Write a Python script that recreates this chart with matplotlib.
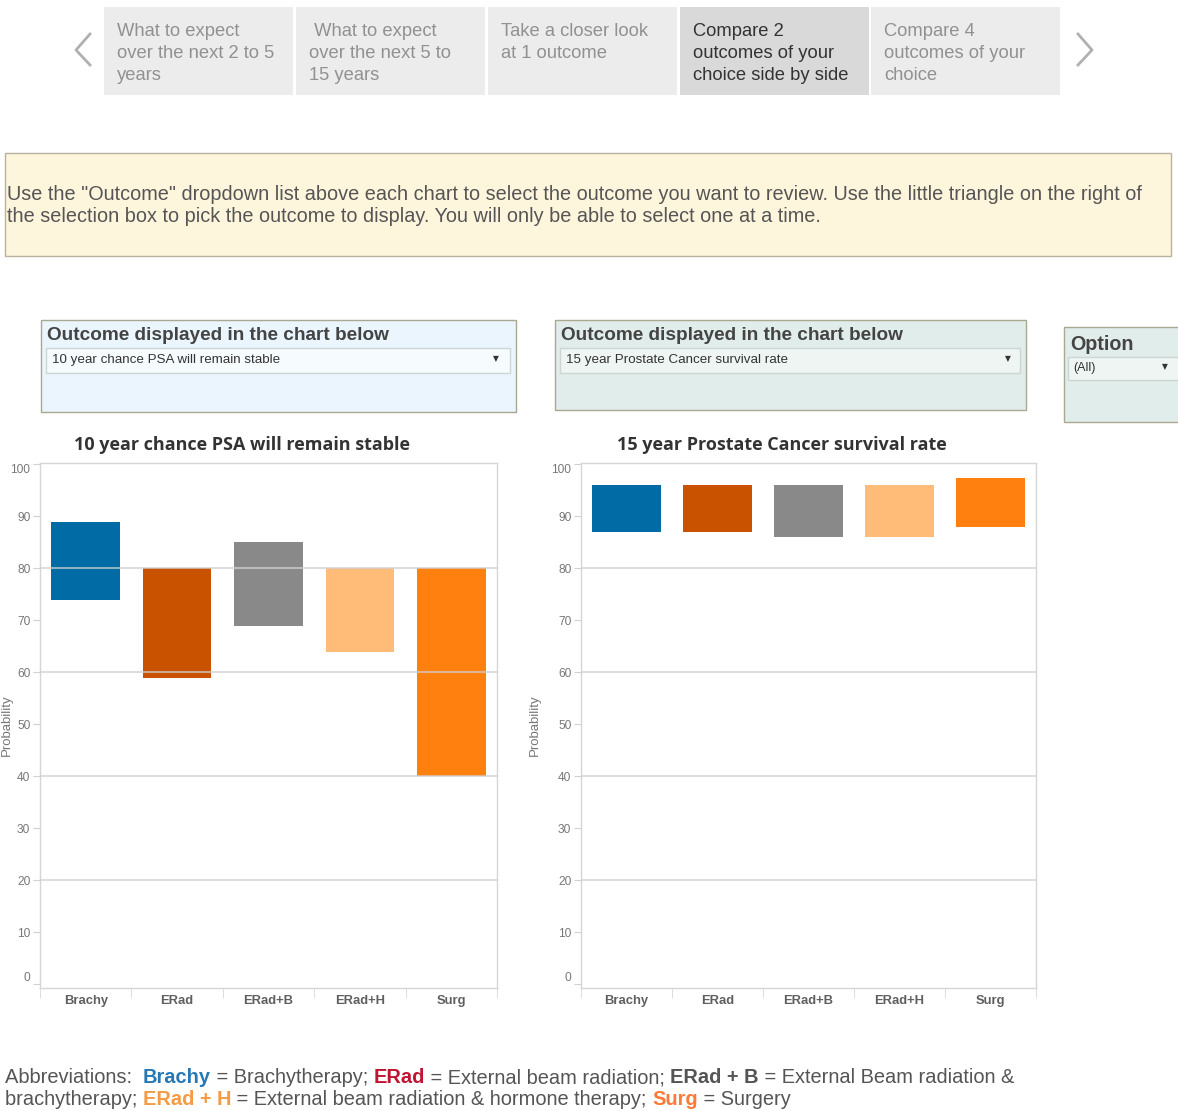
import numpy as np
import matplotlib
matplotlib.use("Agg")
import matplotlib.pyplot as plt
from matplotlib.patches import Rectangle

W, H = 1178, 1111

# data
categories = ["Brachy", "ERad", "ERad+B", "ERad+H", "Surg"]
bar_colors = ["#006BA4", "#C85200", "#898989", "#FFBC79", "#FF800E"]

left_title = "10 year chance PSA will remain stable"
left_low = [74, 59, 69, 64, 40]
left_high = [89, 80, 85, 80, 80]

right_title = "15 year Prostate Cancer survival rate"
right_low = [87, 87, 86, 86, 88]
right_high = [96, 96, 96, 96, 97.4]

y_ticks = [0, 10, 20, 30, 40, 50, 60, 70, 80, 90, 100]
grid_vals = [20, 40, 60, 80]

tabs = [
    ["What to expect", "over the next 2 to 5", "years"],
    [" What to expect", "over the next 5 to", "15 years"],
    ["Take a closer look", "at 1 outcome"],
    ["Compare 2", "outcomes of your", "choice side by side"],
    ["Compare 4", "outcomes of your", "choice"],
]
active_tab = 3

info_lines = [
    'Use the "Outcome" dropdown list above each chart to select the outcome you want to review. Use the little triangle on the right of',
    "the selection box to pick the outcome to display. You will only be able to select one at a time.",
]

abbrev_line1 = [
    ("Abbreviations:  ", "#555555", "normal"),
    ("Brachy", "#2878B5", "bold"),
    (" = Brachytherapy; ", "#555555", "normal"),
    ("ERad", "#C01432", "bold"),
    (" = External beam radiation; ", "#555555", "normal"),
    ("ERad + B", "#555555", "bold"),
    (" = External Beam radiation &", "#555555", "normal"),
]
abbrev_line2 = [
    ("brachytherapy; ", "#555555", "normal"),
    ("ERad + H", "#F59A45", "bold"),
    (" = External beam radiation & hormone therapy; ", "#555555", "normal"),
    ("Surg", "#FF7A35", "bold"),
    (" = Surgery", "#555555", "normal"),
]

SANS = "Liberation Sans"
ABBR_SIZE = 14.4

fig = plt.figure(figsize=(W / 100, H / 100), dpi=100)
fig.patch.set_facecolor("white")

# background layer in pixel coordinates
bg = fig.add_axes([0, 0, 1, 1])
bg.set_xlim(0, W)
bg.set_ylim(H, 0)
bg.axis("off")


def box(x0, y0, x1, y1, fc, ec, lw=1.0):
    bg.add_patch(Rectangle((x0, y0), x1 - x0, y1 - y0, facecolor=fc, edgecolor=ec, linewidth=lw))


# tabs
tab_x = [104, 296, 488, 680, 871]
for i, lines in enumerate(tabs):
    x0 = tab_x[i]
    fc = "#d9d9d9" if i == active_tab else "#ececec"
    col = "#333333" if i == active_tab else "#919191"
    box(x0, 7, x0 + 189, 95, fc, "none")
    for j, ln in enumerate(lines):
        bg.text(x0 + 13, 31 + 22 * j, ln, fontsize=13.2, color=col, family=SANS, va="center", ha="left")

bg.plot([90, 76, 90], [34, 50, 65], color="#b0b0b0", lw=2)
bg.plot([1078, 1092, 1078], [34, 50, 65], color="#b0b0b0", lw=2)

# info box
box(5, 153, 1171, 256, "#fef5dd", "#b9b29c")
for j, ln in enumerate(info_lines):
    bg.text(7, 195 + 22 * j, ln, fontsize=14.3, color="#555555", family=SANS, va="center", ha="left")

# outcome selectors
def selector(x0, x1, y1, fc, inner_fc, title, value, tri_x):
    box(x0, 320, x1, y1, fc, "#a9a893")
    bg.text(x0 + 6, 335, title, fontsize=13.7, weight="bold", color="#444444", family=SANS, va="center")
    box(x0 + 5, 348, x1 - 6, 373, inner_fc, "#cdd5d5")
    bg.text(x0 + 11, 360, value, fontsize=9.6, color="#333333", family=SANS, va="center")
    bg.text(tri_x, 359, "\u25bc", fontsize=5.5, color="#333333", family="DejaVu Sans", va="center", ha="center")


selector(41, 516, 412, "#eaf5fd", "#f6fbfe", "Outcome displayed in the chart below", left_title, 496)
selector(555, 1026, 410, "#e1edea", "#eef5f3", "Outcome displayed in the chart below", right_title, 1008)

box(1064, 327, 1185, 422, "#e1edea", "#a9a893")
bg.text(1070, 344, "Option", fontsize=14.2, weight="bold", color="#444444", family=SANS, va="center")
box(1068, 357, 1185, 380, "#eef5f3", "#cdd5d5")
bg.text(1073, 368, "(All)", fontsize=9.0, color="#333333", family=SANS, va="center")
bg.text(1165, 367, "\u25bc", fontsize=5.5, color="#333333", family="DejaVu Sans", va="center", ha="center")


# charts
def chart(x0, x1, title, low, high, ylabel_x):
    ax = fig.add_axes([x0 / W, 1 - 988 / H, (x1 - x0) / W, 525 / H])
    xs = np.arange(len(categories))
    ax.bar(xs, np.array(high) - np.array(low), bottom=low, width=0.75, color=bar_colors, zorder=2)
    for v in grid_vals:
        ax.axhline(v, color="#cfcfcf", lw=1.5, alpha=0.7, zorder=3)
    ax.set_xlim(-0.5, len(categories) - 0.5)
    ax.set_ylim(-0.7, 100.25)
    ax.set_yticks(y_ticks)
    ax.set_yticklabels([str(v) for v in y_ticks], fontsize=8.6, color="#777777", family=SANS)
    labs = ax.get_yticklabels()
    labs[0].set_va("bottom")
    labs[-1].set_va("top")
    ax.tick_params(axis="y", length=5, color="#d0d0d0", pad=2)
    ax.set_xticks(xs)
    ax.set_xticklabels(categories, fontsize=9.4, color="#5f5f5f", family=SANS, weight="bold")
    ax.tick_params(axis="x", length=0, pad=5)
    ax.set_xticks(np.arange(len(categories) + 1) - 0.5, minor=True)
    ax.tick_params(axis="x", which="minor", length=7, color="#d8d8d8")
    for s in ax.spines.values():
        s.set_color("#d6d6d6")
        s.set_linewidth(1)
    fig.text(((x0 + x1) / 2 - 27) / W, 1 - 445 / H, title, fontsize=13, weight="bold", color="#333333",
             family="Open Sans", ha="center", va="center")
    fig.text(ylabel_x / W, 1 - 725 / H, "Probability", fontsize=9.5, color="#777777", family=SANS,
             rotation=90, ha="center", va="center")
    return ax


chart(40, 497, left_title, left_low, left_high, 7)
chart(581, 1036, right_title, right_low, right_high, 535)

# abbreviations with coloured runs
renderer = fig.canvas.get_renderer()


def text_width(s, weight):
    t1 = bg.text(0, 0, "|" + s + "|", fontsize=ABBR_SIZE, family=SANS, weight=weight)
    t2 = bg.text(0, 0, "||", fontsize=ABBR_SIZE, family=SANS, weight=weight)
    w = t1.get_window_extent(renderer).width - t2.get_window_extent(renderer).width
    t1.remove()
    t2.remove()
    return w


def draw_runs(runs, x, y):
    for s, col, weight in runs:
        bg.text(x, y, s, fontsize=ABBR_SIZE, family=SANS, weight=weight, color=col, va="baseline", ha="left")
        x += text_width(s, weight)


draw_runs(abbrev_line1, 5, 1083)
draw_runs(abbrev_line2, 5, 1105)

fig.savefig("out.png", dpi=100)
